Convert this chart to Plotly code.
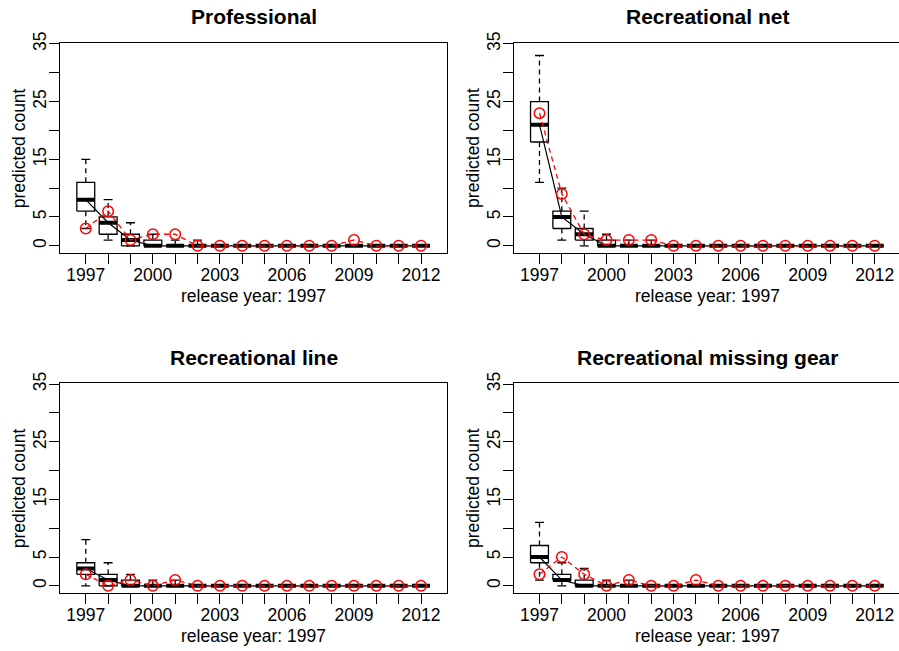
import plotly.graph_objects as go

W, H = 899, 651
years = list(range(1997, 2013))

titles = ["Professional", "Recreational net", "Recreational line", "Recreational missing gear"]

# Box statistics per panel (lower whisker, q1, median, q3, upper whisker) and observed counts
prof_lo  = [3, 1, 0, 0, 0, 0, 0, 0, 0, 0, 0, 0, 0, 0, 0, 0]
prof_q1  = [6, 2, 0, 0, 0, 0, 0, 0, 0, 0, 0, 0, 0, 0, 0, 0]
prof_med = [8, 4, 1, 0, 0, 0, 0, 0, 0, 0, 0, 0, 0, 0, 0, 0]
prof_q3  = [11, 5, 2, 1, 0, 0, 0, 0, 0, 0, 0, 0, 0, 0, 0, 0]
prof_hi  = [15, 8, 4, 2, 1, 1, 0, 0, 0, 0, 0, 0, 0, 0, 0, 0]
prof_obs = [3, 6, 1, 2, 2, 0, 0, 0, 0, 0, 0, 0, 1, 0, 0, 0]

net_lo  = [11, 1, 0, 0, 0, 0, 0, 0, 0, 0, 0, 0, 0, 0, 0, 0]
net_q1  = [18, 3, 1, 0, 0, 0, 0, 0, 0, 0, 0, 0, 0, 0, 0, 0]
net_med = [21, 5, 2, 0, 0, 0, 0, 0, 0, 0, 0, 0, 0, 0, 0, 0]
net_q3  = [25, 6, 3, 1, 0, 0, 0, 0, 0, 0, 0, 0, 0, 0, 0, 0]
net_hi  = [33, 10, 6, 2, 1, 1, 0, 0, 0, 0, 0, 0, 0, 0, 0, 0]
net_obs = [23, 9, 2, 1, 1, 1, 0, 0, 0, 0, 0, 0, 0, 0, 0, 0]

line_lo  = [0, 0, 0, 0, 0, 0, 0, 0, 0, 0, 0, 0, 0, 0, 0, 0]
line_q1  = [2, 0, 0, 0, 0, 0, 0, 0, 0, 0, 0, 0, 0, 0, 0, 0]
line_med = [3, 1, 0, 0, 0, 0, 0, 0, 0, 0, 0, 0, 0, 0, 0, 0]
line_q3  = [4, 2, 1, 0, 0, 0, 0, 0, 0, 0, 0, 0, 0, 0, 0, 0]
line_hi  = [8, 4, 2, 1, 1, 0, 0, 0, 0, 0, 0, 0, 0, 0, 0, 0]
line_obs = [2, 0, 1, 0, 1, 0, 0, 0, 0, 0, 0, 0, 0, 0, 0, 0]

miss_lo  = [1, 0, 0, 0, 0, 0, 0, 0, 0, 0, 0, 0, 0, 0, 0, 0]
miss_q1  = [4, 1, 0, 0, 0, 0, 0, 0, 0, 0, 0, 0, 0, 0, 0, 0]
miss_med = [5, 1, 0, 0, 0, 0, 0, 0, 0, 0, 0, 0, 0, 0, 0, 0]
miss_q3  = [7, 2, 1, 0, 0, 0, 0, 0, 0, 0, 0, 0, 0, 0, 0, 0]
miss_hi  = [11, 4, 3, 1, 1, 0, 0, 0, 0, 0, 0, 0, 0, 0, 0, 0]
miss_obs = [2, 5, 2, 0, 1, 0, 0, 1, 0, 0, 0, 0, 0, 0, 0, 0]

panels = [
    (prof_lo, prof_q1, prof_med, prof_q3, prof_hi, prof_obs),
    (net_lo, net_q1, net_med, net_q3, net_hi, net_obs),
    (line_lo, line_q1, line_med, line_q3, line_hi, line_obs),
    (miss_lo, miss_q1, miss_med, miss_q3, miss_hi, miss_obs),
]

y_ticks = [0, 5, 10, 15, 20, 25, 30, 35]
y_ticktext = ["0", "5", "", "15", "", "25", "", "35"]
x_ticktext = [str(y) if (y - 1997) % 3 == 0 else "" for y in years]
x_title = "release year: 1997"
y_title = "predicted count"

FONT = "Liberation Sans, Arial, Helvetica, sans-serif"
BOXW = 0.8
CAPW = 0.4
LW = 1.3

# pixel layout of the four plot regions: (left, right, top, bottom)
regions = [
    (60.3, 446.7, 42.5, 253.3),
    (514.0, 899.0, 42.5, 253.3),
    (60.3, 446.7, 382.7, 593.3),
    (514.0, 899.0, 382.7, 593.3),
]
PX_PER_YEAR = 22.35
X_LEFT = 1995.86
Y_RANGE = [-1.3, 35.25]

fig = go.Figure()
annotations = []

for i, (lo, q1, med, q3, hi, obs) in enumerate(panels):
    xa = "x" if i == 0 else f"x{i+1}"
    ya = "y" if i == 0 else f"y{i+1}"

    wx, wy, cx, cy, bx, by, mx, my = [], [], [], [], [], [], [], []
    for yr, a, b, m, c, d in zip(years, lo, q1, med, q3, hi):
        wx += [yr, yr, None, yr, yr, None]
        wy += [c, d, None, b, a, None]
        cx += [yr - CAPW / 2, yr + CAPW / 2, None, yr - CAPW / 2, yr + CAPW / 2, None]
        cy += [d, d, None, a, a, None]
        bx += [yr - BOXW / 2, yr + BOXW / 2, yr + BOXW / 2, yr - BOXW / 2, yr - BOXW / 2, None]
        by += [b, b, c, c, b, None]
        mx += [yr - BOXW / 2, yr + BOXW / 2, None]
        my += [m, m, None]

    common = dict(xaxis=xa, yaxis=ya, showlegend=False, hoverinfo="skip")
    fig.add_trace(go.Scatter(x=wx, y=wy, mode="lines",
                             line=dict(color="black", width=LW, dash="5px,4px"), **common))
    fig.add_trace(go.Scatter(x=cx, y=cy, mode="lines",
                             line=dict(color="black", width=LW), **common))
    fig.add_trace(go.Scatter(x=bx, y=by, mode="lines",
                             line=dict(color="black", width=LW), **common))
    fig.add_trace(go.Scatter(x=mx, y=my, mode="lines",
                             line=dict(color="black", width=4), **common))
    fig.add_trace(go.Scatter(x=years, y=med, mode="lines",
                             line=dict(color="black", width=1.2), **common))
    fig.add_trace(go.Scatter(x=years, y=obs, mode="lines+markers",
                             line=dict(color="red", width=1.3, dash="5px,4px"),
                             marker=dict(symbol="circle-open", size=10.5, color="red",
                                         line=dict(width=1.5, color="red")),
                             **common))

    L, R, T, B = regions[i]
    xr = [X_LEFT, X_LEFT + (R - L) / PX_PER_YEAR]
    axkey = "xaxis" if i == 0 else f"xaxis{i+1}"
    aykey = "yaxis" if i == 0 else f"yaxis{i+1}"
    fig.layout[axkey] = dict(
        domain=[L / W, min(R / W, 1.0)], range=xr, anchor=ya,
        tickmode="array", tickvals=years, ticktext=x_ticktext,
        ticks="outside", ticklen=10, tickwidth=LW, tickcolor="black",
        ticklabelstandoff=-4,
        showline=True, mirror=True, linecolor="black", linewidth=LW,
        showgrid=False, zeroline=False, automargin=False,
        tickfont=dict(family=FONT, size=17.5, color="black"),
    )
    fig.layout[aykey] = dict(
        domain=[1 - B / H, 1 - T / H], range=Y_RANGE, anchor=xa,
        tickmode="array", tickvals=y_ticks, ticktext=y_ticktext, tickangle=-90,
        ticks="outside", ticklen=10, tickwidth=LW, tickcolor="black",
        ticklabelstandoff=-4,
        showline=True, mirror=True, linecolor="black", linewidth=LW,
        showgrid=False, zeroline=False, automargin=False,
        tickfont=dict(family=FONT, size=17.5, color="black"),
    )

    cxp = (L + R) / 2 if i % 2 == 0 else (L + 900) / 2
    annotations.append(dict(text=f"<b>{titles[i]}</b>", x=cxp / W, y=1 - (T - 25.5) / H,
                            xref="paper", yref="paper", xanchor="center", yanchor="middle",
                            showarrow=False, font=dict(family=FONT, size=21, color="black")))
    annotations.append(dict(text=x_title, x=cxp / W, y=1 - (B + 43) / H,
                            xref="paper", yref="paper", xanchor="center", yanchor="middle",
                            showarrow=False, font=dict(family=FONT, size=17.5, color="black")))
    annotations.append(dict(text=y_title, x=(L - 41) / W, y=1 - ((T + B) / 2) / H,
                            xref="paper", yref="paper", xanchor="center", yanchor="middle",
                            textangle=-90,
                            showarrow=False, font=dict(family=FONT, size=17.5, color="black")))

fig.update_layout(
    width=W, height=H,
    margin=dict(l=0, r=0, t=0, b=0, autoexpand=False),
    paper_bgcolor="white", plot_bgcolor="white",
    annotations=annotations,
    showlegend=False,
)

fig.write_html(
    "out.html",
    config={"responsive": False, "displayModeBar": False},
    post_script="document.body.style.margin='0';document.body.style.padding='0';"
                "document.documentElement.style.overflow='hidden';",
)
